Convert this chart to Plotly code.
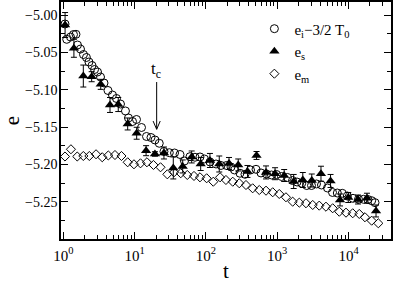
import math
import plotly.graph_objects as go

# e_i - 3/2 T0 (open circles)
t_i = [1.057, 1.117, 1.262, 1.390, 1.507, 1.581, 1.742, 1.919, 2.113, 2.291,
       2.529, 2.742, 3.020, 3.327, 3.724, 4.236, 4.898, 5.572, 6.339, 7.447,
       8.204, 9.354, 10.64, 12.50, 14.69, 16.98, 19.32, 22.18, 25.82, 30.69,
       36.31, 43.35, 50.12, 59.84, 70.31, 82.60, 95.50, 114.3, 138.7, 162.9,
       194.5, 224.9, 251.8, 300.6, 353.2, 422.7, 504.7, 592.9, 707.9, 831.8,
       977.2, 1148, 1393, 1641, 1897, 2208, 2594, 3027, 3556, 4178,
       5070, 5970, 6966, 8185, 9616, 11561, 13804, 16218, 18750, 21135, 23550]
e_i = [-5.0120, -5.0325, -5.0294, -5.0261, -5.0258, -5.0401, -5.0455, -5.0528, -5.0568, -5.0628,
       -5.0675, -5.0729, -5.0762, -5.0829, -5.0909, -5.1009, -5.1070, -5.1116, -5.1190, -5.1283,
       -5.1377, -5.1424, -5.1397, -5.1504, -5.1624, -5.1638, -5.1671, -5.1715, -5.1825, -5.1841,
       -5.1845, -5.1865, -5.1952, -5.1894, -5.1902, -5.1898, -5.1925, -5.1965, -5.1992, -5.2012,
       -5.2012, -5.2032, -5.2072, -5.2116, -5.2130, -5.2072, -5.2063, -5.2112, -5.2126, -5.2139,
       -5.2132, -5.2159, -5.2172, -5.2213, -5.2233, -5.2250, -5.2280, -5.2280, -5.2259, -5.2273,
       -5.2313, -5.2373, -5.2380, -5.2384, -5.2420, -5.2451, -5.2464, -5.2464, -5.2467, -5.2483, -5.2509]

# e_s (filled triangles with error bars)
t_s = [1.06, 1.41, 1.91, 2.50, 3.35, 4.52, 5.90, 8.0, 10.7, 14.5,
       19.3, 25.8, 34.9, 47.3, 63.2, 84.5, 114, 154, 211, 284,
       383, 513, 697, 933, 1253, 1702, 2286, 3055, 4111, 5598,
       7603, 9931, 13583, 18155, 24322]
e_s = [-5.0134, -5.0445, -5.0816, -5.0825, -5.0927, -5.1203, -5.1197, -5.1457, -5.1581, -5.1814,
       -5.1858, -5.1845, -5.2045, -5.2025, -5.1898, -5.1992, -5.1945, -5.1992, -5.1985, -5.2005,
       -5.2092, -5.1878, -5.2105, -5.2122, -5.2146, -5.2226, -5.2206, -5.2213, -5.2122, -5.2219,
       -5.2473, -5.2440, -5.2467, -5.2450, -5.2620]
err_s = [0.0167, 0.012, 0.0147, 0.0067, 0.0067, 0.010, 0.0094, 0.008, 0.008, 0.0067,
         0.003, 0.008, 0.0147, 0.0087, 0.008, 0.0087, 0.0094, 0.0107, 0.008, 0.008,
         0.008, 0.0053, 0.0087, 0.008, 0.008, 0.0094, 0.010, 0.0087, 0.010, 0.0087,
         0.008, 0.0067, 0.006, 0.0067, 0.008]

# e_m (open diamonds)
t_m = [1.057, 1.28, 1.57, 1.91, 2.32, 2.88, 3.52, 4.28, 5.31, 6.55,
       8.0, 9.8, 12.1, 14.9, 18.4, 23.1, 28.8, 35.7, 44.4, 54.8,
       68.1, 82.6, 102.5, 127, 158, 191, 238, 294, 365, 453,
       561, 697, 865, 1069, 1327, 1648, 2042, 2535, 3148, 3890,
       4831, 6000, 7430, 9226, 11455, 14158, 17022, 21135, 26182]
e_m = [-5.1892, -5.1795, -5.1892, -5.1885, -5.1885, -5.1862, -5.1902, -5.1878, -5.1872, -5.1885,
       -5.1969, -5.1996, -5.1983, -5.1969, -5.2005, -5.2036, -5.2130, -5.2103, -5.2116, -5.2139,
       -5.2152, -5.2170, -5.2183, -5.2229, -5.2170, -5.2206, -5.2229, -5.2250, -5.2273, -5.2317,
       -5.2340, -5.2349, -5.2370, -5.2393, -5.2437, -5.2496, -5.2509, -5.2517, -5.2540, -5.2549,
       -5.2563, -5.2584, -5.2630, -5.2643, -5.2651, -5.2660, -5.2704, -5.2750, -5.2785]

x_ticks = [1, 10, 100, 1000, 10000]
x_ticktext = ["10<sup>0</sup>", "10<sup>1</sup>", "10<sup>2</sup>", "10<sup>3</sup>", "10<sup>4</sup>"]
t_c = 20.4

FONT = "Liberation Serif"

fig = go.Figure()

fig.add_trace(go.Scatter(
    x=t_i, y=e_i, mode="markers", name="e<sub>i</sub>\u22123/2 T<sub>0</sub>",
    marker=dict(symbol="circle-open", size=8, color="black", line=dict(width=1))))

fig.add_trace(go.Scatter(
    x=t_s, y=e_s, mode="markers", name="e<sub>s</sub>",
    marker=dict(symbol="triangle-up", size=9, color="black"),
    error_y=dict(type="data", array=err_s, color="black", thickness=1, width=3)))

fig.add_trace(go.Scatter(
    x=t_m, y=e_m, mode="markers", name="e<sub>m</sub>",
    marker=dict(symbol="diamond-open", size=7, color="black", line=dict(width=1))))

# minor ticks on the log axis at 2..9 of each decade
minor_x = [m * 10 ** k for k in range(0, 5) for m in range(2, 10)]

fig.update_xaxes(
    type="log", range=[-0.032, 4.596], automargin=False,
    tickmode="array", tickvals=x_ticks, ticktext=x_ticktext,
    ticks="inside", ticklen=7, tickwidth=1, tickcolor="black",
    minor=dict(tickmode="array", tickvals=minor_x, ticks="inside", ticklen=4, tickcolor="black"),
    showline=True, linecolor="black", linewidth=1.5, mirror="ticks",
    showgrid=False, zeroline=False, ticklabelstandoff=2,
    tickfont=dict(family=FONT, size=15, color="black"),
    title=dict(text="t", font=dict(family=FONT, size=21, color="black"), standoff=15),
)

fig.update_yaxes(
    range=[-5.2995, -4.9826], automargin=False,
    tickmode="linear", tick0=-5.0, dtick=0.05, tickformat=".2f",
    ticks="inside", ticklen=7, tickwidth=1, tickcolor="black",
    minor=dict(dtick=0.025, ticks="inside", ticklen=4, tickcolor="black"),
    showline=True, linecolor="black", linewidth=1.5, mirror="ticks",
    showgrid=False, zeroline=False, ticklabelstandoff=-1,
    tickfont=dict(family=FONT, size=14, color="black"),
    title=dict(text="e", font=dict(family=FONT, size=21, color="black"), standoff=4),
)

# t_c label and arrow
lx = math.log10(t_c)
fig.add_annotation(x=lx - 0.01, y=-5.074, text="t<sub>c</sub>", showarrow=False,
                   font=dict(family=FONT, size=17, color="black"))
tip_y = -5.1528
xl, xr = t_c * 10 ** -0.05, t_c * 10 ** 0.05
fig.add_shape(type="path", xref="x", yref="y",
              path=f"M {t_c},-5.0896 L {t_c},{tip_y} M {xl},{tip_y + 0.011} L {t_c},{tip_y} L {xr},{tip_y + 0.011}",
              line=dict(color="black", width=1))

fig.update_layout(
    width=393, height=283,
    margin=dict(l=61, r=2, t=2, b=44),
    plot_bgcolor="white", paper_bgcolor="white",
    font=dict(family=FONT, color="black"),
    showlegend=True,
    legend=dict(x=0.586, y=0.956, xanchor="left", yanchor="top",
                bgcolor="rgba(0,0,0,0)", borderwidth=0,
                font=dict(family=FONT, size=15, color="black"),
                tracegroupgap=0),
)

# the page body has a default 8px margin; drop it so the chart sits at the corner
fig.write_html("out.html", config={"displayModeBar": False},
               post_script="document.body.style.margin='0';")
